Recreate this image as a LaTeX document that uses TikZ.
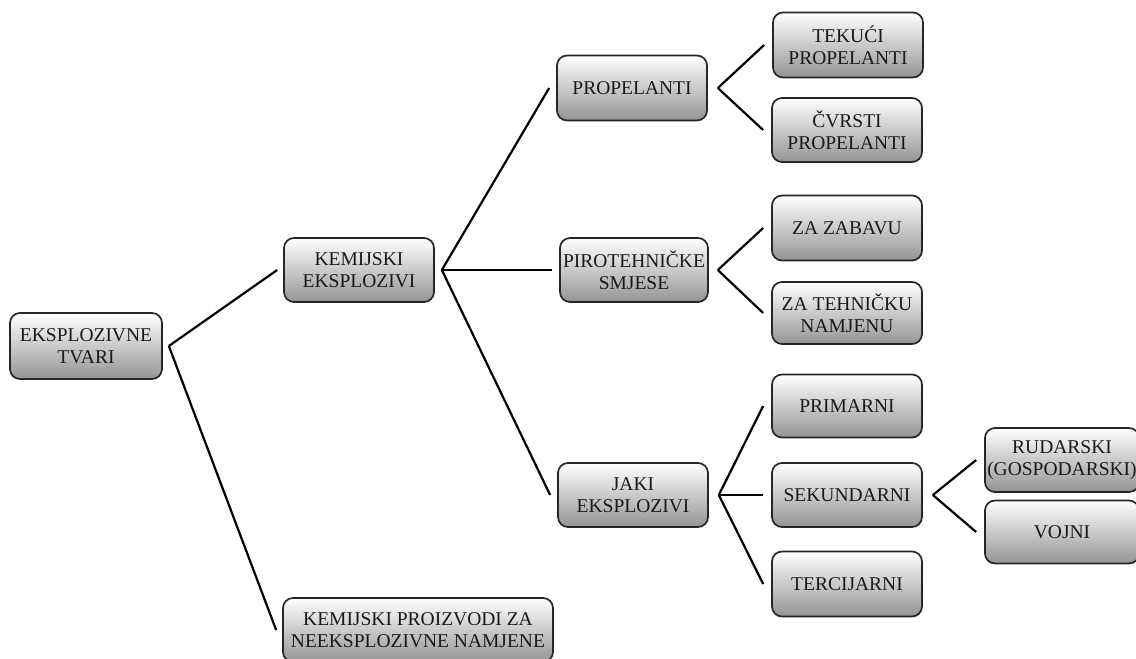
\documentclass[tikz,border=0pt]{standalone}
\usepackage{fontspec}
\setmainfont{Liberation Serif}
\begin{document}
\begin{tikzpicture}[x=1pt,y=-1pt,
  box/.style={draw=black!85, line width=1.7pt, rounded corners=10pt,
    top color=white, bottom color=black!42, text=black!90,
    align=center, inner sep=0pt, minimum width=150pt, minimum height=64pt,
    font=\fontsize{19.5}{22}\selectfont},
  conn/.style={line width=2.2pt, black}]
\useasboundingbox (0,0) rectangle (1136,659);
\node[box, minimum width=152pt, minimum height=66pt] (tvari) at (86,346) {EKSPLOZIVNE\\TVARI};
\node[box] (kemeks) at (359,270) {KEMIJSKI\\EKSPLOZIVI};
\node[box, minimum height=65pt] (prop) at (632,88) {PROPELANTI};
\node[box, minimum height=65pt] (tek) at (848,45) {TEKUĆI\\PROPELANTI};
\node[box] (cvr) at (847,130) {ČVRSTI\\PROPELANTI};
\node[box, minimum width=148pt] (piro) at (634,270) {PIROTEHNIČKE\\SMJESE};
\node[box, minimum height=65pt] (zab) at (847,228) {ZA ZABAVU};
\node[box, minimum height=62pt] (teh) at (847,313) {ZA TEHNIČKU\\NAMJENU};
\node[box] (jaki) at (633,495) {JAKI\\EKSPLOZIVI};
\node[box, minimum height=63pt] (prim) at (847,406) {PRIMARNI};
\node[box] (sek) at (847,495) {SEKUNDARNI};
\node[box, minimum height=65pt] (ter) at (847,584) {TERCIJARNI};
\node[box, minimum width=154pt] (rud) at (1062,460) {RUDARSKI\\(GOSPODARSKI)};
\node[box, minimum width=154pt, minimum height=63pt] (voj) at (1062,532) {VOJNI};
\node[box, minimum width=270pt] (proiz) at (418,630) {KEMIJSKI PROIZVODI ZA\\NEEKSPLOZIVNE NAMJENE};
% connectors
\coordinate (t0) at ([xshift=6pt]tvari.east);
\draw[conn] (t0) -- ([xshift=-6pt]kemeks.west);
\draw[conn] (t0) -- ([xshift=-6pt]proiz.west);
\coordinate (k0) at ([xshift=7pt]kemeks.east);
\draw[conn] (k0) -- ([xshift=-7pt]prop.west);
\draw[conn] (k0) -- ([xshift=-7pt]piro.west);
\draw[conn] (k0) -- ([xshift=-7pt]jaki.west);
\coordinate (p0) at ([xshift=10pt]prop.east);
\draw[conn] (p0) -- ([xshift=-8pt]tek.west);
\draw[conn] (p0) -- ([xshift=-8pt]cvr.west);
\coordinate (s0) at ([xshift=9pt]piro.east);
\draw[conn] (s0) -- ([xshift=-8pt]zab.west);
\draw[conn] (s0) -- ([xshift=-8pt]teh.west);
\coordinate (j0) at ([xshift=10pt]jaki.east);
\draw[conn] (j0) -- ([xshift=-8pt]prim.west);
\draw[conn] (j0) -- ([xshift=-8pt]sek.west);
\draw[conn] (j0) -- ([xshift=-8pt]ter.west);
\coordinate (e0) at ([xshift=10pt]sek.east);
\draw[conn] (e0) -- ([xshift=-8pt]rud.west);
\draw[conn] (e0) -- ([xshift=-8pt]voj.west);
\end{tikzpicture}
\end{document}
